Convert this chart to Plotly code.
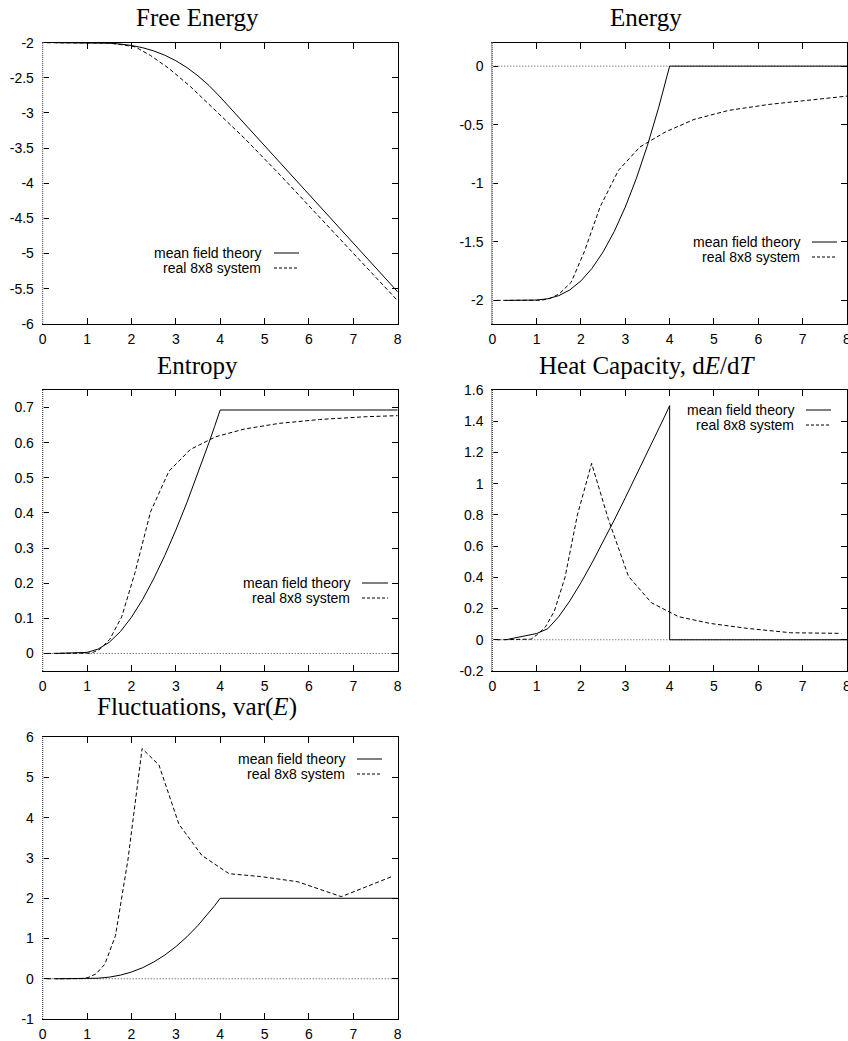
import plotly.graph_objects as go

W, H = 848, 1041

# ---------------- data ----------------
# mean field theory
T_mf = [0.3, 1.0, 1.25, 1.5, 1.75, 2.0, 2.25, 2.5, 2.75, 3.0, 3.25, 3.5, 3.75, 3.875, 4.0, 8.0]
F_mf = [-2.0, -2.0003, -2.0021, -2.0074, -2.019, -2.0393, -2.0712, -2.1167, -2.1778,
        -2.2565, -2.3539, -2.4717, -2.6109, -2.6888, -2.7726, -5.5452]
E_mf = [-2.0, -1.9973, -1.9864, -1.9597, -1.9103, -1.8336, -1.7264, -1.586, -1.4122,
        -1.2028, -0.9577, -0.6754, -0.3562, -0.1832, 0.0, 0.0]
S_mf = [0.0, 0.003, 0.0125, 0.0318, 0.0621, 0.1029, 0.1532, 0.2123, 0.2784,
        0.3512, 0.4296, 0.5132, 0.6013, 0.6466, 0.6931, 0.6931]
T_mf_heat = [0.3, 1.0, 1.25, 1.5, 1.75, 2.0, 2.25, 2.5, 2.75, 3.0, 3.25, 3.5, 3.75, 3.875, 4.0, 4.0, 8.0]
C_mf = [0.0, 0.04, 0.0706, 0.1485, 0.2495, 0.366, 0.4931, 0.6284, 0.7669, 0.9096,
        1.0542, 1.2018, 1.3507, 1.4232, 1.5, 0.0, 0.0]
V_mf = [0.0, 0.0027, 0.0136, 0.0403, 0.0897, 0.1664, 0.2736, 0.414, 0.5878,
        0.7972, 1.0423, 1.3246, 1.6438, 1.8168, 2.0, 2.0]

# real 8x8 system
T_real_e = [0.1, 0.8, 1.1, 1.29, 1.51, 1.78, 2.08, 2.43, 2.845, 3.33, 3.9, 4.55, 5.33, 6.24, 7.3, 8.0]
F_real = [-2.0, -2.0, -2.0, -2.0005, -2.005, -2.03, -2.058, -2.182, -2.367, -2.625,
          -2.969, -3.362, -3.869, -4.483, -5.207, -5.672]
E_real = [-2.0, -2.0, -1.999, -1.985, -1.945, -1.845, -1.58, -1.203, -0.89, -0.69,
          -0.563, -0.455, -0.378, -0.327, -0.287, -0.256]
S_real = [0.0, 0.0, 0.001, 0.012, 0.04, 0.104, 0.23, 0.403, 0.519, 0.581,
          0.617, 0.639, 0.655, 0.666, 0.674, 0.677]
T_real_c = [0.1, 0.75, 0.875, 1.02, 1.2, 1.4, 1.64, 1.92, 2.24, 2.62, 3.07, 3.59, 4.2, 4.91, 5.75, 6.73, 7.87]
C_real = [0.0, 0.0, 0.004, 0.035, 0.083, 0.184, 0.40, 0.80, 1.13, 0.77, 0.407,
          0.237, 0.148, 0.105, 0.073, 0.045, 0.041]
V_real = [0.0, 0.0, 0.003, 0.03, 0.12, 0.36, 1.07, 2.95, 5.72, 5.31, 3.84,
          3.06, 2.61, 2.54, 2.41, 2.04, 2.54]

x_ticks = [0, 1, 2, 3, 4, 5, 6, 7, 8]
x_tick_labels = ["0", "1", "2", "3", "4", "5", "6", "7", "8"]

titles = ["Free Energy", "Energy", "Entropy",
          "Heat Capacity, d<i>E</i>/d<i>T</i>", "Fluctuations, var(<i>E</i>)"]
legend_labels = ["mean field theory", "real 8x8 system"]

y_ticks = [
    [-6, -5.5, -5, -4.5, -4, -3.5, -3, -2.5, -2],
    [-2, -1.5, -1, -0.5, 0],
    [0, 0.1, 0.2, 0.3, 0.4, 0.5, 0.6, 0.7],
    [-0.2, 0, 0.2, 0.4, 0.6, 0.8, 1, 1.2, 1.4, 1.6],
    [-1, 0, 1, 2, 3, 4, 5, 6],
]
y_tick_labels = [
    ["-6", "-5.5", "-5", "-4.5", "-4", "-3.5", "-3", "-2.5", "-2"],
    ["-2", "-1.5", "-1", "-0.5", "0"],
    ["0", "0.1", "0.2", "0.3", "0.4", "0.5", "0.6", "0.7"],
    ["-0.2", "0", "0.2", "0.4", "0.6", "0.8", "1", "1.2", "1.4", "1.6"],
    ["-1", "0", "1", "2", "3", "4", "5", "6"],
]
y_ranges = [[-6, -2], [-2.2, 0.2], [-0.05, 0.75], [-0.2, 1.6], [-1, 6]]

series = [
    (T_mf, F_mf, T_real_e, F_real),
    (T_mf, E_mf, T_real_e, E_real),
    (T_mf, S_mf, T_real_e, S_real),
    (T_mf_heat, C_mf, T_real_c, C_real),
    (T_mf, V_mf, T_real_c, V_real),
]

# ---------------- layout geometry (page pixels) ----------------
boxes = [  # left, right, top, bottom
    (42.7, 397.7, 42.7, 323.8),
    (492.3, 847.0, 42.7, 323.8),
    (42.7, 397.7, 390.0, 671.0),
    (492.3, 847.0, 390.0, 671.0),
    (42.7, 397.7, 737.3, 1019.0),
]
title_pos = [(197, 27.3), (645.5, 27.3), (197.5, 375), (647, 374.5), (197, 717)]  # center x, baseline
legend_pos = [  # text right edge, first row y, line x0, line x1
    (263, 253, 274, 299),
    (802, 242, 812, 837),
    (352, 583, 362, 388),
    (796, 410, 806, 831),
    (347, 759, 357, 382),
]
show_zero = [False, True, True, True, True]

DASH = "4px,2.5px"
SANS = "Liberation Sans, Arial, Helvetica, sans-serif"
SERIF = "Liberation Serif, Times New Roman, serif"
SANS_SIZE = 14
TITLE_SIZE = 25

def px(x):
    return x / W

def py(y):
    return 1 - y / H

fig = go.Figure()
layout = dict(
    width=W, height=H, margin=dict(l=0, r=0, t=0, b=0, autoexpand=False),
    paper_bgcolor="white", plot_bgcolor="white", showlegend=False,
)
shapes = []
annotations = []

for i in range(5):
    sfx = "" if i == 0 else str(i + 1)
    xa, ya = "x" + sfx, "y" + sfx
    l, r, t, b = boxes[i]
    tm, ym, tr, yr = series[i]
    fig.add_trace(go.Scatter(x=tm, y=ym, mode="lines", xaxis=xa, yaxis=ya,
                             line=dict(color="black", width=1)))
    fig.add_trace(go.Scatter(x=tr, y=yr, mode="lines", xaxis=xa, yaxis=ya,
                             line=dict(color="black", width=1, dash=DASH)))
    common = dict(showgrid=False, zeroline=False, ticks="inside", ticklen=6,
                  tickcolor="black", tickwidth=1, showline=True, linecolor="black",
                  linewidth=1, mirror="ticks", automargin=False, ticklabeloverflow="allow",
                  tickfont=dict(family=SANS, size=SANS_SIZE, color="black"))
    layout["xaxis" + sfx] = dict(common, domain=[px(l), px(r)], range=[0, 8],
                                 anchor=ya, tickvals=x_ticks, ticktext=x_tick_labels,
                                 ticklabelstandoff=2)
    layout["yaxis" + sfx] = dict(common, domain=[py(b), py(t)], range=y_ranges[i],
                                 anchor=xa, tickvals=y_ticks[i], ticktext=y_tick_labels[i],
                                 ticklabelstandoff=5)
    # dotted left border (x = 0 zero axis drawn over the border)
    shapes.append(dict(type="line", xref=xa + " domain", yref=ya + " domain",
                       x0=0, x1=0, y0=0, y1=1, line=dict(color="white", width=2), layer="above"))
    shapes.append(dict(type="line", xref=xa + " domain", yref=ya + " domain",
                       x0=0, x1=0, y0=0, y1=1, line=dict(color="#333", width=1, dash="1px,1px"),
                       layer="above"))
    if show_zero[i]:
        shapes.append(dict(type="line", xref=xa + " domain", yref=ya,
                           x0=0, x1=1, y0=0, y1=0,
                           line=dict(color="#444", width=1, dash="1px,2px"), layer="below"))
    # title
    tx, ty = title_pos[i]
    annotations.append(dict(text=titles[i], x=px(tx), y=py(ty + 0.24 * TITLE_SIZE),
                            xref="paper", yref="paper",
                            xanchor="center", yanchor="bottom", showarrow=False,
                            font=dict(family=SERIF, size=TITLE_SIZE, color="black")))
    # legend
    lx, ly, lx0, lx1 = legend_pos[i]
    for k, lab in enumerate(legend_labels):
        yy = ly + 15 * k
        annotations.append(dict(text=lab, x=px(lx), y=py(yy), xref="paper", yref="paper",
                                xanchor="right", yanchor="middle", showarrow=False,
                                font=dict(family=SANS, size=SANS_SIZE, color="black")))
        shapes.append(dict(type="line", xref="paper", yref="paper",
                           x0=px(lx0), x1=px(lx1), y0=py(yy), y1=py(yy),
                           line=dict(color="black", width=1,
                                     dash="solid" if k == 0 else "3px,2px")))

layout["shapes"] = shapes
layout["annotations"] = annotations
fig.update_layout(**layout)
# let the figure fill the 848x1041 page exactly (no default body margin / scrollbars)
fig.write_html("out.html", config={"displayModeBar": False},
               post_script="document.body.style.margin='0';document.body.style.overflow='hidden';")
